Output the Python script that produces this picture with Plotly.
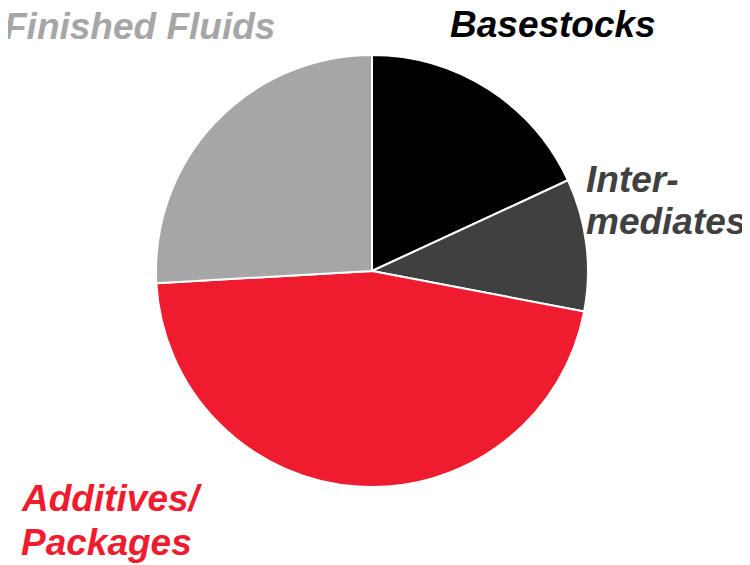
import plotly.graph_objects as go

segments = ["Basestocks", "Intermediates", "Additives/Packages", "Finished Fluids"]
shares = [18.1, 9.9, 46.1, 25.9]
colors = ["#000000", "#404040", "#EE1C2E", "#A6A6A6"]

# one entry per text line of the outside labels
label_lines = ["Finished Fluids", "Basestocks", "Inter-", "mediates", "Additives/", "Packages"]
line_color = ["#A6A6A6", "#000000", "#404040", "#404040", "#EE1C2E", "#EE1C2E"]
line_x = [-5, 441, 577, 577, 12, 12]
line_y = [18, 17, 171, 213, 490, 534]

W, H = 750, 565

fig = go.Figure(go.Pie(
    labels=segments,
    values=shares,
    sort=False,
    direction="clockwise",
    rotation=0,
    textinfo="none",
    hoverinfo="label+percent",
    marker=dict(colors=colors, line=dict(color="white", width=2)),
    domain=dict(x=[148 / W, 580 / W], y=[(H - 479) / H, (H - 47) / H]),
))

for txt, col, x, y in zip(label_lines, line_color, line_x, line_y):
    fig.add_annotation(
        text="<b><i>" + txt + "</i></b>",
        x=x / W, y=1 - y / H,
        xref="paper", yref="paper",
        xanchor="left", yanchor="middle", align="left",
        showarrow=False, borderpad=0,
        font=dict(family="Liberation Sans, Arial", size=37, color=col),
    )

fig.update_layout(
    width=W, height=H,
    margin=dict(l=0, r=0, t=0, b=0),
    showlegend=False,
    paper_bgcolor="white",
    plot_bgcolor="white",
)

fig.write_html("out.html")
